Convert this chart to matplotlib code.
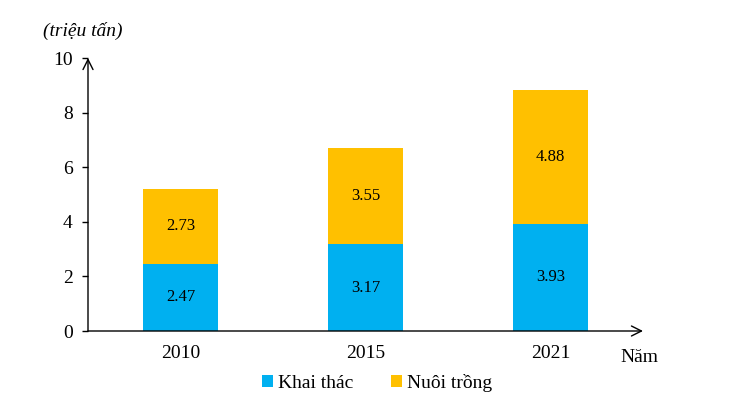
import matplotlib
matplotlib.use('AGG')
import matplotlib.pyplot as plt

# data
years = ['2010', '2015', '2021']
khai_thac = [2.47, 3.17, 3.93]
nuoi_trong = [2.73, 3.55, 4.88]
yticks = [0, 2, 4, 6, 8, 10]

plt.rcParams['font.family'] = ['Liberation Serif', 'DejaVu Serif']

fig = plt.figure(figsize=(7.3, 4.15), dpi=100)
ax = fig.add_axes([88 / 730, 1 - 331 / 415, (643 - 88) / 730, (331 - 58) / 415])

x = list(range(len(years)))
w = 0.405
b1 = ax.bar(x, khai_thac, width=w, color='#00B0F0', label='Khai thác')
b2 = ax.bar(x, nuoi_trong, width=w, bottom=khai_thac, color='#FFC000', label='Nuôi trồng')

for i in x:
    ax.text(i, khai_thac[i] / 2, f'{khai_thac[i]:.2f}', ha='center', va='center', fontsize=12)
    ax.text(i, khai_thac[i] + nuoi_trong[i] / 2, f'{nuoi_trong[i]:.2f}',
            ha='center', va='center', fontsize=12)

ax.set_xlim(-0.5, 2.5)
ax.set_ylim(0, 10)
ax.set_yticks(yticks)
ax.set_xticks(x)
ax.set_xticklabels(years)
ax.tick_params(axis='y', direction='out', length=4.5, width=1, labelsize=14, pad=6.5)
ax.tick_params(axis='x', length=0, labelsize=14, pad=10)
for s in ax.spines.values():
    s.set_visible(False)

# axes with open arrow heads
ax.annotate('', xy=(0, 1.0), xytext=(0, 0), xycoords='axes fraction',
            arrowprops=dict(arrowstyle='->', lw=1, color='black', mutation_scale=18,
                            shrinkA=0, shrinkB=0))
ax.annotate('', xy=(1.0, 0), xytext=(0, 0), xycoords='axes fraction',
            arrowprops=dict(arrowstyle='->', lw=1, color='black', mutation_scale=18,
                            shrinkA=0, shrinkB=0))

fig.text(83 / 730, 1 - 31 / 415, '(triệu tấn)', ha='center', va='center',
         fontsize=14, style='italic')
fig.text(639 / 730, 1 - 357 / 415, 'Năm', ha='center', va='center', fontsize=14)

fig.legend(handles=[b1, b2], loc='center', bbox_to_anchor=(377 / 730, 1 - 383 / 415),
           ncol=2, frameon=False, fontsize=14, handlelength=0.55, handleheight=0.55,
           handletextpad=0.25, columnspacing=1.95)

fig.savefig('out.png', dpi=100)
